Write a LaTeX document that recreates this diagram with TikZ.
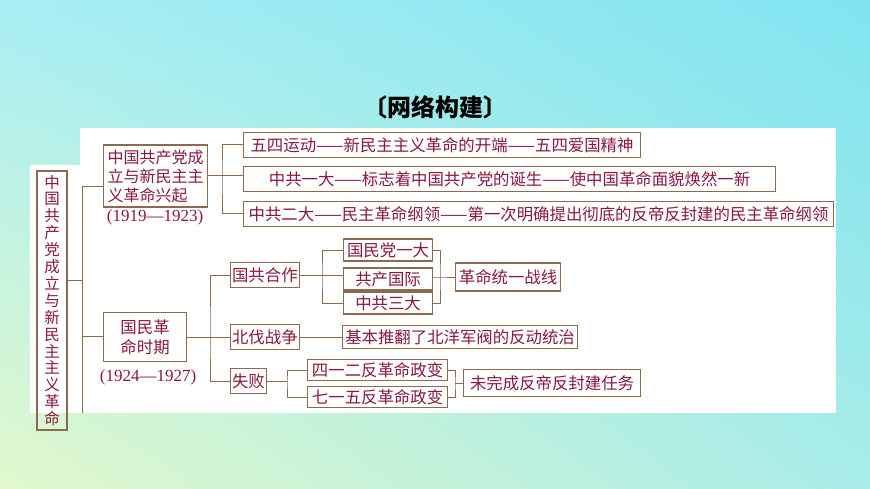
\documentclass[tikz,border=0pt]{standalone}
\usepackage{fontspec}
\usetikzlibrary{shadings}
\setmainfont{Liberation Serif}
\newfontfamily\cjk{Noto Sans CJK SC}
\begin{document}
\begin{tikzpicture}[x=1pt,y=-1pt,
  box/.style={draw=bx,line width=1.1pt,text=tx,font=\cjk\fontsize{16.4}{20}\selectfont,inner sep=1.5pt,anchor=west,minimum height=25pt},
  ln/.style={draw=bx,line width=1pt},
  yr/.style={text=tx,font=\fontsize{17}{19}\selectfont}]
\definecolor{bx}{HTML}{8C6A50}
\definecolor{tx}{HTML}{8A1840}
\definecolor{bul}{HTML}{A8EEF4}
\definecolor{bur}{HTML}{80E4F0}
\definecolor{bll}{HTML}{E2F8CC}
\definecolor{blr}{HTML}{A8ECE8}
\useasboundingbox (0,0) rectangle (870,489);
\shade[upper left=bul, upper right=bur, lower left=bll, lower right=blr] (0,0) rectangle (870,489);
\fill[white] (80,128) rectangle (836,413);
\fill[white] (30,165) rectangle (80,413);
\node[font=\cjk\bfseries\fontsize{24}{26}\selectfont,text=black] (title) at (435,107) {〔网络构建〕};
\node[draw=bx,line width=1.1pt,text=tx,font=\cjk\fontsize{15.5}{16.9}\selectfont,minimum width=30pt,minimum height=259pt,align=center,inner sep=1pt] (root) at (52,300.5) {中\\国\\共\\产\\党\\成\\立\\与\\新\\民\\主\\主\\义\\革\\命};
% stage 1
\node[box,align=left,minimum width=104pt,minimum height=62pt,font=\cjk\fontsize{16}{19}\selectfont] (s1) at (103,176) {中国共产党成\\立与新民主主\\义革命兴起};
\node[yr] (y1) at (155,217) {(1919—1923)};
\node[box,minimum width=397pt] (a1) at (243,145) {五四运动——新民主主义革命的开端——五四爱国精神};
\node[box,minimum width=532pt] (a2) at (243,179) {中共一大——标志着中国共产党的诞生——使中国革命面貌焕然一新};
\node[box,minimum width=590pt] (a3) at (243,214) {中共二大——民主革命纲领——第一次明确提出彻底的反帝反封建的民主革命纲领};
% stage 2
\node[box,align=center,minimum width=83pt,minimum height=49pt] (s2) at (103,337) {国民革\\命时期};
\node[yr] (y2) at (148,377) {(1924—1927)};
\node[box] (b1) at (230,275) {国共合作};
\node[box] (b2) at (230,337) {北伐战争};
\node[box] (b3) at (230,381) {失败};
\node[box,minimum width=89pt,minimum height=22pt] (c1) at (343,250) {国民党一大};
\node[box,minimum width=89pt,minimum height=22pt] (c2) at (343,279) {共产国际};
\node[box,minimum width=89pt,minimum height=22pt] (c3) at (343,303) {中共三大};
\node[box,minimum width=105pt,minimum height=28pt] (d1) at (455,277) {革命统一战线};
\node[box,minimum width=235pt,minimum height=23pt] (d2) at (342,337) {基本推翻了北洋军阀的反动统治};
\node[box,minimum width=140pt,minimum height=21pt] (e1) at (307,370) {四一二反革命政变};
\node[box,minimum width=140pt,minimum height=21pt] (e2) at (307,397) {七一五反革命政变};
\node[box,minimum width=177pt,minimum height=27pt] (f1) at (463,383) {未完成反帝反封建任务};
% connectors
\coordinate (t1) at (82,187); \coordinate (t2) at (82,413);
\draw[ln] (root.east |- 0,280) -- (82,280);
\draw[ln] (t1) -- (t2);
\draw[ln] (t1) -- (s1.west |- t1);
\draw[ln] (82,336) -- (s2.west |- 0,336);
\coordinate (j1) at (222,176);
\draw[ln] (s1.east |- j1) -- (j1);
\draw[ln] (a1.west) -| (j1) |- (a3.west);
\draw[ln] (j1) -- (a2.west |- j1);
\coordinate (j2) at (210,337);
\draw[ln] (s2.east) -- (j2);
\draw[ln] (b1.west) -| (j2) |- (b3.west);
\draw[ln] (j2) -- (b2.west);
\coordinate (j3) at (322,275);
\draw[ln] (b1.east) -- (j3);
\draw[ln] (c1.west) -| (j3) |- (c3.west);
\draw[ln] (c2.west |- j3) -- (j3);
\coordinate (k3) at (440,277);
\draw[ln] (c1.east) -| (k3) |- (c3.east);
\draw[ln] (c2.east |- k3) -- (k3) -- (d1.west);
\draw[ln] (b2.east) -- (d2.west);
\coordinate (j4) at (287,381);
\draw[ln] (b3.east) -- (j4);
\draw[ln] (e1.west) -| (j4) |- (e2.west);
\coordinate (k4) at (455,383);
\draw[ln] (e1.east) -| (k4) |- (e2.east);
\draw[ln] (k4) -- (f1.west);
\end{tikzpicture}
\end{document}
